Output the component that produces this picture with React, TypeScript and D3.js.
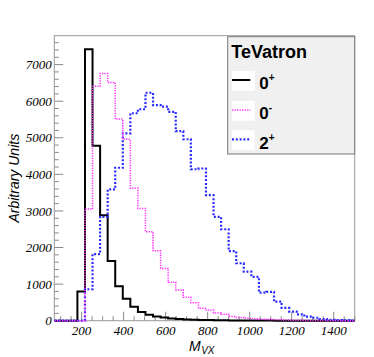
import React from "react";
import * as d3 from "d3";

// plot frame in page pixels
const frame = { left: 54.3, right: 354.7, top: 35.7, bottom: 320.7 };

const xDomain = [70, 1500];
const yDomain = [0, 7790];
const xTicks = [200, 400, 600, 800, 1000, 1200, 1400];
const yTicks = [0, 1000, 2000, 3000, 4000, 5000, 6000, 7000];

// histogram bins: first bin starts at 180, each 36 wide
const binLow = 180;
const binWidth = 36;

// 0+ (black, solid)
const scalar = [
  800, 7420, 4780, 2880, 1630, 940, 600, 380, 240, 165, 115, 85, 62, 48, 36, 28,
  22, 17, 13, 10, 8, 6, 5, 4, 3, 3, 2, 2, 1, 1, 1, 0, 0, 0, 0, 0, 0,
];
// 0- (magenta, dotted)
const pseudo = [
  0, 3050, 6410, 6760, 6510, 5510, 4960, 3620, 3070, 2430, 1910, 1430, 1050, 840,
  640, 490, 340, 290, 210, 175, 115, 90, 70, 55, 40, 30, 25, 18, 14, 10, 8, 6, 5,
  4, 3, 2, 1,
];
// 2+ (blue, dotted)
const tensor = [
  0, 860, 1820, 2840, 3590, 4180, 5120, 5670, 5780, 6230, 5890, 5850, 5710, 5180,
  4960, 4140, 4160, 3430, 2840, 2500, 1900, 1570, 1340, 1200, 765, 790, 520, 350,
  250, 175, 110, 80, 46, 25, 15, 10, 5,
];

const series = [
  { key: "0", sup: "+", values: scalar, color: "#000000", width: 2, dash: "none" },
  { key: "2", sup: "+", values: tensor, color: "#2a2aff", width: 2.2, dash: "2 1.8" },
  { key: "0", sup: "-", values: pseudo, color: "#ff33ff", width: 1.5, dash: "1.3 1.2" },
];
const legendOrder = [0, 2, 1];

const App = () => {
  const x = d3.scaleLinear().domain(xDomain).range([frame.left, frame.right]);
  const y = d3.scaleLinear().domain(yDomain).range([frame.bottom, frame.top]);

  const stepLine = d3
    .line<[number, number]>()
    .x((d) => x(d[0]))
    .y((d) => y(d[1]))
    .curve(d3.curveStepAfter);

  const pathFor = (values: number[]) => {
    const pts: [number, number][] = [[xDomain[0], 0]];
    values.forEach((v, i) => pts.push([binLow + i * binWidth, v]));
    pts.push([binLow + values.length * binWidth, values[values.length - 1]]);
    return stepLine(pts);
  };

  const xMinor = d3.range(100, 1501, 50).filter((v) => v % 200 !== 0);
  const yMinor = d3.range(200, 7790, 200).filter((v) => v % 1000 !== 0);

  const tickColor = "#8a8a8a";
  const serif = "'Liberation Serif', 'DejaVu Serif', serif";
  const sans = "'Liberation Sans', Arial, sans-serif";

  const legendX = 227.7;
  const legendY = 36.7;
  const legendRows = [80, 110, 139.3];

  return (
    <svg
      width={374}
      height={357}
      style={{ position: "absolute", left: 0, top: 0, background: "#fff" }}
    >
      <defs>
        <clipPath id="plotClip">
          <rect x={frame.left} y={frame.top} width={frame.right - frame.left} height={frame.bottom - frame.top + 4} />
        </clipPath>
      </defs>

      {/* frame */}
      <rect
        x={frame.left}
        y={frame.top}
        width={frame.right - frame.left}
        height={frame.bottom - frame.top}
        fill="none"
        stroke="#999"
        strokeWidth={1}
      />

      {/* y axis ticks */}
      {yTicks.map((t) => (
        <line key={"ym" + t} x1={frame.left} x2={frame.left + 9} y1={y(t)} y2={y(t)} stroke={tickColor} />
      ))}
      {yMinor.map((t) => (
        <line key={"yn" + t} x1={frame.left} x2={frame.left + 4.5} y1={y(t)} y2={y(t)} stroke={tickColor} />
      ))}
      {yTicks.map((t) => (
        <text
          key={"yl" + t}
          x={frame.left - 2.6}
          y={y(t)}
          dy="0.36em"
          textAnchor="end"
          fontFamily={serif}
          fontStyle="italic"
          fontSize={13}
          fill="#000"
        >
          {t}
        </text>
      ))}

      {/* x axis ticks */}
      {xTicks.map((t) => (
        <line key={"xm" + t} x1={x(t)} x2={x(t)} y1={frame.bottom} y2={frame.bottom - 9} stroke={tickColor} />
      ))}
      {xMinor.map((t) => (
        <line key={"xn" + t} x1={x(t)} x2={x(t)} y1={frame.bottom} y2={frame.bottom - 4.5} stroke={tickColor} />
      ))}
      {xTicks.map((t) => (
        <text
          key={"xl" + t}
          x={x(t)}
          y={335}
          textAnchor="middle"
          fontFamily={serif}
          fontStyle="italic"
          fontSize={13}
          fill="#000"
        >
          {t}
        </text>
      ))}

      {/* histograms */}
      <g clipPath="url(#plotClip)">
        {series.map((s, i) => (
          <path
            key={i}
            d={pathFor(s.values) || ""}
            fill="none"
            stroke={s.color}
            strokeWidth={s.width}
            strokeDasharray={s.dash}
          />
        ))}
      </g>

      {/* axis titles */}
      <text
        transform={`translate(18.5,${(frame.top + frame.bottom) / 2}) rotate(-90)`}
        textAnchor="middle"
        fontFamily={sans}
        fontStyle="italic"
        fontSize={14}
        fill="#000"
      >
        Arbitrary Units
      </text>
      <text x={189} y={350.5} fontFamily={sans} fontStyle="italic" fontSize={14} fill="#000">
        M
        <tspan fontSize={10} dy={3.5} dx={0.5}>
          VX
        </tspan>
      </text>

      {/* legend */}
      <rect x={legendX} y={legendY} width={frame.right - legendX} height={117.3} fill="#f0f0f0" stroke="#777" strokeWidth={1} />
      <text x={231.3} y={58.3} fontFamily={sans} fontWeight="bold" fontSize={18} fill="#000">
        TeVatron
      </text>
      {legendOrder.map((si, r) => {
        const s = series[si];
        const ly = legendRows[r];
        return (
          <g key={"lg" + r}>
            <rect x={232} y={ly - 9} width={22.7} height={19.7} fill="#fff" />
            <line x1={232} x2={250.3} y1={ly} y2={ly} stroke={s.color} strokeWidth={s.width} strokeDasharray={s.dash} />
            <text x={259.3} y={ly + 9.3} fontFamily={sans} fontWeight="bold" fontSize={17} fill="#000">
              {s.key}
              <tspan fontSize={10} dy={-8}>
                {s.sup}
              </tspan>
            </text>
          </g>
        );
      })}
    </svg>
  );
};

export default App;
